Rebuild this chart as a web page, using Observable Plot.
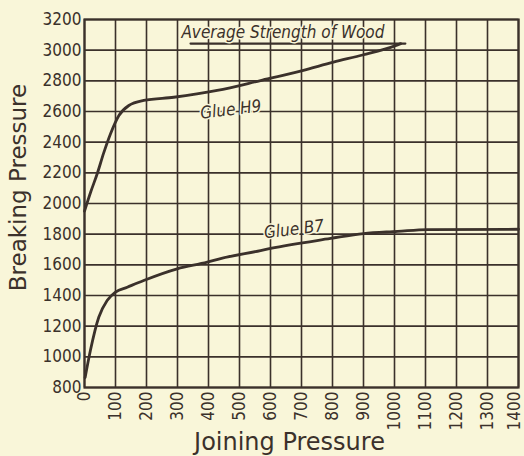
<!DOCTYPE html>
<html>
<head>
<meta charset="utf-8">
<script src="https://cdn.jsdelivr.net/npm/d3@7"></script>
<script src="https://cdn.jsdelivr.net/npm/@observablehq/plot@0.6"></script>
<style>
  html, body { margin: 0; padding: 0; background: #f9f6d9; }
  #chart { width: 524px; height: 456px; }
</style>
</head>
<body>
<div id="chart"></div>
<script>
// Joining pressure (x) vs breaking pressure (y) for each glue
const h9Joining  = [0, 20, 41, 62, 84, 111, 143, 191, 288, 428, 568, 703, 803, 900, 1003, 1020];
const h9Breaking = [1950, 2075, 2194, 2330, 2455, 2574, 2639, 2672, 2693, 2737, 2802, 2867, 2922, 2970, 3030, 3043];

const b7Joining  = [2, 19, 46, 73, 100, 138, 191, 299, 396, 439, 568, 600, 794, 900, 1010, 1106, 1400];
const b7Breaking = [865, 1041, 1258, 1367, 1422, 1454, 1498, 1574, 1617, 1641, 1693, 1707, 1772, 1804, 1818, 1830, 1832];

// Reference line: average strength of wood
const woodStrength = 3043;
const woodRange = [342, 1035];

const xTicks = [0, 100, 200, 300, 400, 500, 600, 700, 800, 900, 1000, 1100, 1200, 1300, 1400];
const yTicks = [800, 1000, 1200, 1400, 1600, 1800, 2000, 2200, 2400, 2600, 2800, 3000, 3200];

const seriesLabels = [
  {text: "Glue H9", x: 472, y: 2612},
  {text: "Glue B7", x: 676, y: 1832}
];
const annotation = {text: "Average Strength of Wood", x: 640, y: 3115};

const h9 = h9Joining.map((x, i) => ({x, y: h9Breaking[i]}));
const b7 = b7Joining.map((x, i) => ({x, y: b7Breaking[i]}));
const wood = woodRange.map(x => ({x, y: woodStrength}));

const ink = "#3b312b";
const bg = "#f9f6d9";
const font = "'DejaVu Sans Condensed', 'DejaVu Sans', sans-serif";
const titleFont = "'DejaVu Sans', sans-serif";

const xTicksInner = xTicks.slice(0, -1);
const xTicksLast = xTicks.slice(-1);

const chart = Plot.plot({
  width: 524,
  height: 456,
  marginLeft: 84,
  marginTop: 19,
  marginRight: 6,
  marginBottom: 69,
  style: {background: bg, color: ink, fontFamily: font, fontSize: "17px"},
  x: {domain: [0, 1400]},
  y: {domain: [800, 3200]},
  marks: [
    Plot.gridX(xTicks, {stroke: ink, strokeOpacity: 1, strokeWidth: 1.6}),
    Plot.gridY(yTicks, {stroke: ink, strokeOpacity: 1, strokeWidth: 1.6}),
    Plot.frame({stroke: ink, strokeWidth: 2.2}),
    Plot.axisX(xTicksInner, {tickSize: 0, tickRotate: -90, tickPadding: 4, label: null, fontSize: 17, fill: ink, tickFormat: d => String(d)}),
    Plot.axisX(xTicksLast, {tickSize: 0, tickRotate: -90, tickPadding: 4, label: null, fontSize: 17, fill: ink, dx: -4, tickFormat: d => String(d)}),
    Plot.axisY(yTicks, {tickSize: 0, tickPadding: 3, label: null, fontSize: 17, fill: ink, tickFormat: d => String(d)}),
    Plot.line(wood, {x: "x", y: "y", stroke: ink, strokeWidth: 2.2}),
    Plot.line(h9, {x: "x", y: "y", stroke: ink, strokeWidth: 2.8, curve: "monotone-x"}),
    Plot.line(b7, {x: "x", y: "y", stroke: ink, strokeWidth: 2.8, curve: "monotone-x"}),
    Plot.text(seriesLabels, {x: "x", y: "y", text: "text", rotate: -7, fontSize: 17, fontStyle: "italic", fill: ink, stroke: bg, strokeWidth: 3, paintOrder: "stroke"}),
    Plot.text([annotation], {x: "x", y: "y", text: "text", fontSize: 17, fontStyle: "italic", fill: ink, stroke: bg, strokeWidth: 3, paintOrder: "stroke"}),
    Plot.text(["Joining Pressure"], {frameAnchor: "bottom", textAnchor: "middle", lineAnchor: "middle", dx: -12, dy: 55, fontSize: 24, fill: ink, text: d => d, fontFamily: titleFont}),
    Plot.text(["Breaking Pressure"], {frameAnchor: "left", textAnchor: "middle", dx: -66, dy: -16, rotate: -90, fontSize: 23, fill: ink, text: d => d, fontFamily: titleFont})
  ]
});
document.getElementById("chart").appendChild(chart);
</script>
</body>
</html>
